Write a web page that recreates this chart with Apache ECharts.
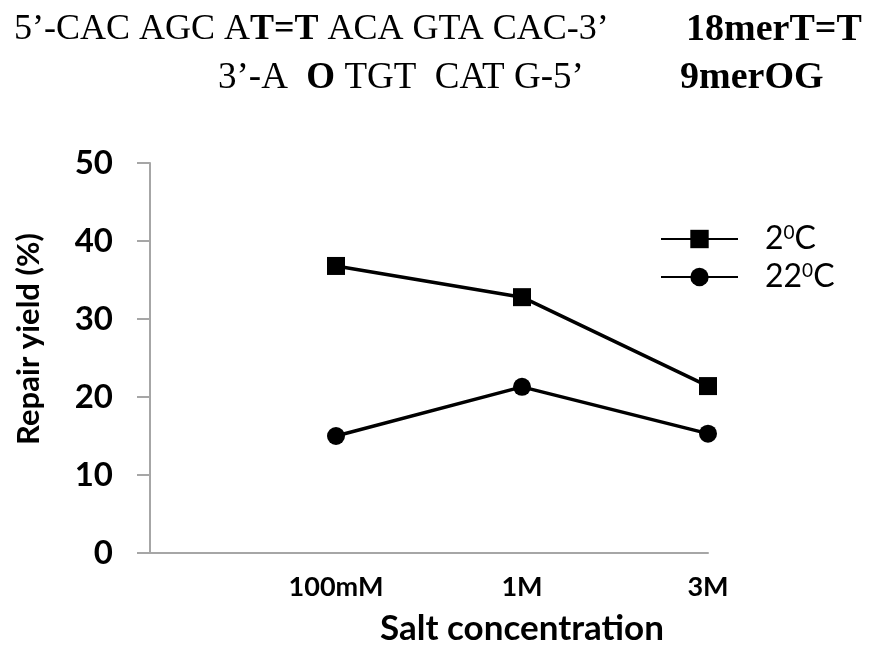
<!DOCTYPE html>
<html>
<head>
<meta charset="utf-8">
<script src="https://cdn.jsdelivr.net/npm/echarts@6/dist/echarts.min.js"></script>
<style>
  html, body { margin: 0; padding: 0; background: #fff; }
  #chart { width: 873px; height: 648px; }
</style>
</head>
<body>
<div id="chart"></div>
<script>
// Salt concentrations (leading blank slot keeps the first point off the y-axis)
const categories = ['', '100mM', '1M', '3M'];
// Repair yield (%) at each temperature
const yield2C  = [null, 36.8, 32.8, 21.4];
const yield22C = [null, 15.0, 21.3, 15.3];
const seriesNames = ['2°C', '22°C'];
const yTicks = { min: 0, max: 50, step: 10 };

const sansFont = 'Lato';
const serifFont = 'Liberation Serif';
const axisGray = '#a6a6a6';

const chart = echarts.init(document.getElementById('chart'));

const superscriptLabel = name => {
  const t = name.replace('°C', '');
  return '{n|' + t + '}{s|0}{n|C}';
};

const seqRich = size => ({
  r: { fontFamily: serifFont, fontSize: size, fill: '#000' },
  b: { fontFamily: serifFont, fontSize: size, fontWeight: 'bold', fill: '#000' }
});

chart.setOption({
  animation: false,
  backgroundColor: '#ffffff',
  grid: { left: 150, right: 165, top: 163, bottom: 95, outerBoundsMode: 'none' },
  graphic: [
    {
      type: 'text', left: 14, top: 12,
      style: { text: '{r|5’-CAC AGC A}{b|T=T}{r| ACA GTA CAC-3’}', rich: seqRich(36) }
    },
    {
      type: 'text', left: 686, top: 11,
      style: { text: '18merT=T', fontFamily: serifFont, fontSize: 38, fontWeight: 'bold', fill: '#000' }
    },
    {
      type: 'text', left: 218, top: 60,
      style: { text: '{r|3’-A  }{b|O}{r| TGT  CAT G-5’}', rich: seqRich(37) }
    },
    {
      type: 'text', left: 680, top: 59,
      style: { text: '9merOG', fontFamily: serifFont, fontSize: 38, fontWeight: 'bold', fill: '#000' }
    }
  ],
  legend: {
    orient: 'vertical',
    left: 660, top: 223,
    padding: 0,
    itemWidth: 77, itemHeight: 23, itemGap: 6,
    data: seriesNames,
    formatter: superscriptLabel,
    textStyle: {
      color: '#000',
      padding: [0, 0, 0, 22],
      rich: {
        n: { fontFamily: sansFont, fontSize: 32, color: '#000', lineHeight: 32 },
        s: { fontFamily: sansFont, fontSize: 19, color: '#000', verticalAlign: 'top', lineHeight: 32 }
      }
    }
  },
  xAxis: {
    type: 'category',
    data: categories,
    boundaryGap: false,
    name: 'Salt concentration',
    nameLocation: 'middle',
    nameGap: 58,
    nameTextStyle: { fontFamily: sansFont, fontSize: 35, fontWeight: 'bold', color: '#000', padding: [0, 0, 0, 186] },
    axisLine: { lineStyle: { color: axisGray, width: 2 } },
    axisTick: { show: false },
    axisLabel: { margin: 21, fontFamily: sansFont, fontSize: 27, fontWeight: 'bold', color: '#000' },
    splitLine: { show: false }
  },
  yAxis: {
    type: 'value',
    min: yTicks.min, max: yTicks.max, interval: yTicks.step,
    name: 'Repair yield (%)',
    nameLocation: 'middle',
    nameGap: 106,
    nameTextStyle: { fontFamily: sansFont, fontSize: 31, fontWeight: 'bold', color: '#000', padding: [0, 0, 0, 38] },
    axisLine: { show: true, lineStyle: { color: axisGray, width: 2 } },
    axisTick: { show: true, length: 13, lineStyle: { color: axisGray, width: 2 } },
    axisLabel: { margin: 37, fontFamily: sansFont, fontSize: 33, fontWeight: 'bold', color: '#000' },
    splitLine: { show: false }
  },
  series: [
    {
      name: seriesNames[0], type: 'line', data: yield2C,
      symbol: 'rect', symbolSize: 18,
      lineStyle: { color: '#000', width: 3.5 },
      itemStyle: { color: '#000' }
    },
    {
      name: seriesNames[1], type: 'line', data: yield22C,
      symbol: 'circle', symbolSize: 18,
      lineStyle: { color: '#000', width: 3.5 },
      itemStyle: { color: '#000' }
    }
  ]
});
</script>
</body>
</html>
